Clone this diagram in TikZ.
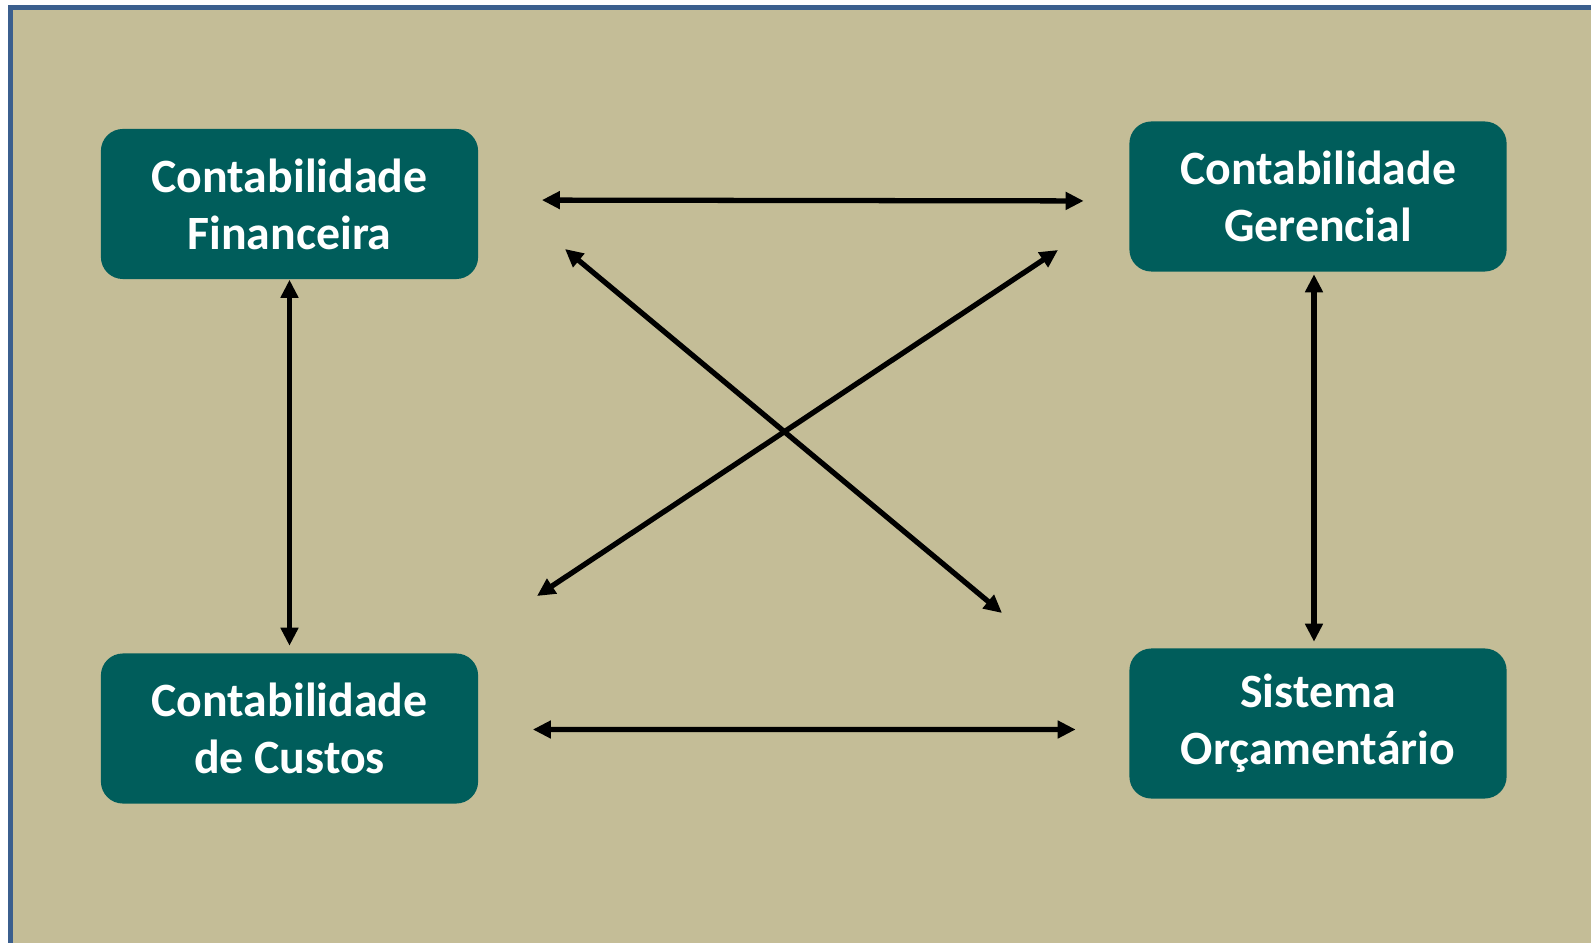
\documentclass[tikz,border=0pt]{standalone}
\usepackage{fontspec}
\setmainfont{Carlito}
\usetikzlibrary{arrows.meta}
\definecolor{paper}{HTML}{C4BD97}
\definecolor{frameblue}{HTML}{3B5F8E}
\definecolor{teal}{HTML}{005D5B}

\begin{document}
\begin{tikzpicture}[x=0.01cm, y=-0.01cm,
        box/.style={draw=none, fill=teal, rounded corners=0.22cm, minimum width=3.77cm,
            minimum height=1.5cm, inner sep=0pt, align=center, text=white,
            font=\bfseries\fontsize{13.6}{16.2}\selectfont},
        link/.style={{Triangle[length=0.18cm,width=0.17cm]}-{Triangle[length=0.18cm,width=0.17cm]},
            line width=1.5pt, black}]
    \useasboundingbox (0, 0) rectangle (1591, 943);
    \fill[white] (0, 0) rectangle (1591, 943);
    \fill[paper] (8, 5) rectangle (1591, 943);
    \draw[frameblue, line width=0.055cm] (10.5, 943) -- (10.5, 7.5) -- (1591, 7.5);

    \node[box] (fin) at (289.5, 204) {Contabilidade\\Financeira};
    \node[box] (ger) at (1318, 196.5) {Contabilidade\\Gerencial};
    \node[box] (cus) at (289.5, 728.5) {Contabilidade\\de Custos};
    \node[box] (orc) at (1318, 723.5) {Sistema\\Orçamentário};

    % ends of the crossing arrows
    \coordinate (x1) at (565, 249);
    \coordinate (x2) at (1002, 613);
    \coordinate (x3) at (1058, 250);
    \coordinate (x4) at (537, 596);

    \draw[link, shorten <=0.63cm, shorten >=0.45cm] ([yshift=0.04cm]fin.east) -- ([yshift=-0.045cm]ger.west);
    \draw[link, shorten <=0.54cm, shorten >=0.53cm] ([yshift=-0.01cm]cus.east) -- ([yshift=-0.06cm]orc.west);
    \draw[link, shorten >=0.07cm] (fin.south) -- (cus.north);
    \draw[link, shorten <=0.02cm, shorten >=0.06cm] ([xshift=-0.04cm]ger.south) -- ([xshift=-0.04cm]orc.north);
    \draw[link] (x1) -- (x2);
    \draw[link] (x3) -- (x4);
\end{tikzpicture}
\end{document}
